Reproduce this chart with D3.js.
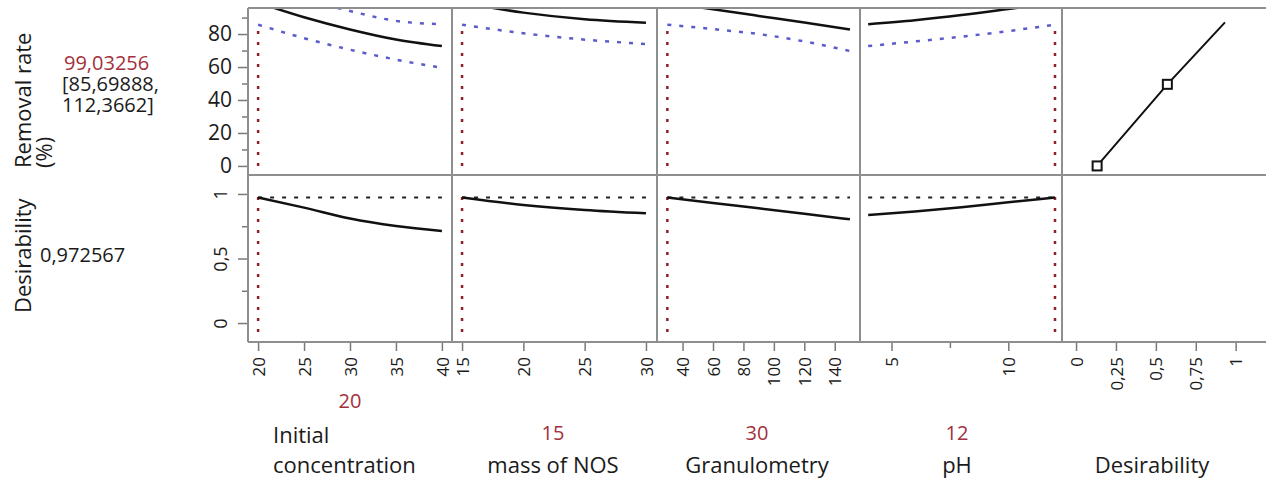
<!DOCTYPE html>
<html>
<head>
<meta charset="utf-8">
<script src="https://cdn.jsdelivr.net/npm/d3@7"></script>
<style>
  html, body { margin: 0; padding: 0; background: #fff; }
  svg { display: block; font-family: "Open Sans", "Noto Sans", sans-serif; }
</style>
</head>
<body>
<svg id="chart" width="1266" height="485"></svg>
<script>
// ---------------- DATA ----------------
const factorNames = ["Initial concentration", "mass of NOS", "Granulometry", "pH"];
const currentValues = [20, 15, 30, 12];
const currentLabels = ["20", "15", "30", "12"];

const concX    = [20, 25, 30, 35, 40];
const concRate = [99.03, 90.2, 82.8, 76.7, 72.7];
const concLow  = [85.7, 77.5, 70.5, 64.5, 59.5];
const concHigh = [112.37, 101.5, 94, 88, 86];
const concDes  = [0.9726, 0.894, 0.81, 0.752, 0.713];

const massX    = [15, 20, 25, 30];
const massRate = [99.03, 93, 89, 86.9];
const massLow  = [85.7, 80.5, 76.6, 74];
const massHigh = [112.37, 105.5, 101.4, 99.8];
const massDes  = [0.9726, 0.915, 0.876, 0.85];

const granX    = [30, 60, 90, 120, 150];
const granRate = [99.03, 95, 91, 87, 82.8];
const granLow  = [85.7, 83, 80, 75.5, 69.7];
const granHigh = [112.37, 107, 102, 98.5, 95.9];
const granDes  = [0.9726, 0.93, 0.889, 0.846, 0.804];

const phX    = [4, 6, 8, 10, 12];
const phRate = [86, 88.4, 91.5, 95.2, 99.03];
const phLow  = [72.7, 75.5, 78.4, 81.8, 85.7];
const phHigh = [99.3, 101.3, 104.6, 108.6, 112.37];
const phDes  = [0.837, 0.865, 0.898, 0.935, 0.9726];

// desirability function (removal rate vs desirability)
const desFnD    = [0.132, 0.572, 0.933];
const desFnRate = [0, 49.5, 87.1];
const desFnMarkers = [0, 1];

const predicted = "99,03256";
const ciLower = "[85,69888,";
const ciUpper = "112,3662]";
const predictedDes = 0.9726;
const predictedDesLabel = "0,972567";

// tick values
const concTicks = [20, 25, 30, 35, 40];
const massTicks = [15, 20, 25, 30];
const granTicks = [40, 60, 80, 100, 120, 140];
const phTicks = [5, 10];
const phMinor = [7.5];
const desTicks = [0, 0.25, 0.5, 0.75, 1];
const rateTicks = [0, 20, 40, 60, 80];
const rateMinor = [10, 30, 50, 70, 90];
const dTicks = [0, 0.5, 1];
const dMinor = [0.25, 0.75];

// ---------------- LAYOUT ----------------
const svg = d3.select("#chart");
const colX = [248, 452, 657, 860, 1062, 1266];
const rowTop = 8, rowMid = 175, rowBot = 342;
const RED = "#a3303c";
const FRAME = "#8e8e8e";
const locale = d3.formatLocale({decimal: ",", thousands: ".", grouping: [3], currency: ["", ""]});
const fmt = v => locale.format("~g")(v);

const yRate = d3.scaleLinear().domain([-5.5, 95.8]).range([rowMid, rowTop]);
const yDes  = d3.scaleLinear().domain([-0.147, 1.147]).range([rowBot, rowMid]);

const xDomains = [[18.9, 41.1], [14.18, 30.9], [23.2, 156.6], [3.65, 12.3], [-0.088, 1.19]];
const xScales = xDomains.map((dom, i) => d3.scaleLinear().domain(dom).range([colX[i], colX[i + 1]]));

const panels = [
  {x: concX, rate: concRate, low: concLow, high: concHigh, des: concDes},
  {x: massX, rate: massRate, low: massLow, high: massHigh, des: massDes},
  {x: granX, rate: granRate, low: granLow, high: granHigh, des: granDes},
  {x: phX,   rate: phRate,   low: phLow,   high: phHigh,   des: phDes}
];

// clip paths
const defs = svg.append("defs");
for (let i = 0; i < 5; i++) {
  defs.append("clipPath").attr("id", "ct" + i).append("rect")
    .attr("x", colX[i]).attr("y", rowTop).attr("width", colX[i + 1] - colX[i]).attr("height", rowMid - rowTop);
  defs.append("clipPath").attr("id", "cb" + i).append("rect")
    .attr("x", colX[i]).attr("y", rowMid).attr("width", colX[i + 1] - colX[i]).attr("height", rowBot - rowMid);
}

const marks = svg.append("g");

panels.forEach((p, i) => {
  const xs = xScales[i];
  const gT = marks.append("g").attr("clip-path", `url(#ct${i})`);
  const gB = marks.append("g").attr("clip-path", `url(#cb${i})`);
  const lineT = arr => d3.line().curve(d3.curveMonotoneX).x((d, k) => xs(p.x[k])).y(d => yRate(d))(arr);
  const lineB = arr => d3.line().curve(d3.curveMonotoneX).x((d, k) => xs(p.x[k])).y(d => yDes(d))(arr);
  const cur = currentValues[i];
  const ci = p.x.indexOf(cur);

  // vertical red dotted (top)
  gT.append("line")
    .attr("x1", xs(cur)).attr("x2", xs(cur))
    .attr("y1", yRate(0)).attr("y2", yRate(p.low[ci]))
    .attr("stroke", "#8f1f2a").attr("stroke-width", 2.5).attr("stroke-dasharray", "3,8");

  // confidence bands
  [p.low, p.high].forEach(arr => {
    gT.append("path").attr("d", lineT(arr)).attr("fill", "none")
      .attr("stroke", "#5b5bcc").attr("stroke-width", 2.5).attr("stroke-dasharray", "4,8");
  });
  // prediction
  gT.append("path").attr("d", lineT(p.rate)).attr("fill", "none")
    .attr("stroke", "#111").attr("stroke-width", 2.5);

  // bottom row
  gB.append("line")
    .attr("x1", xs(cur)).attr("x2", xs(cur))
    .attr("y1", yDes(-0.07)).attr("y2", yDes(predictedDes + 0.03))
    .attr("stroke", "#8f1f2a").attr("stroke-width", 2.5).attr("stroke-dasharray", "3,8");
  gB.append("line")
    .attr("x1", xs(d3.min(p.x))).attr("x2", xs(d3.max(p.x)))
    .attr("y1", yDes(predictedDes)).attr("y2", yDes(predictedDes))
    .attr("stroke", "#222").attr("stroke-width", 2).attr("stroke-dasharray", "4,8");
  gB.append("path").attr("d", lineB(p.des)).attr("fill", "none")
    .attr("stroke", "#111").attr("stroke-width", 2.5);
});

// desirability function panel
{
  const xs = xScales[4];
  const g = marks.append("g").attr("clip-path", "url(#ct4)");
  g.append("path")
    .attr("d", d3.line().x((d, k) => xs(desFnD[k])).y(d => yRate(d))(desFnRate))
    .attr("fill", "none").attr("stroke", "#111").attr("stroke-width", 2);
  g.selectAll("rect.mk").data(desFnMarkers).join("rect")
    .attr("x", k => xs(desFnD[k]) - 4.5).attr("y", k => yRate(desFnRate[k]) - 4.5)
    .attr("width", 9).attr("height", 9)
    .attr("fill", "#fff").attr("stroke", "#111").attr("stroke-width", 2);
}

// ---------------- FRAME ----------------
const frame = svg.append("g").attr("stroke", FRAME).attr("stroke-width", 2);
[rowTop, rowMid, rowBot].forEach(y => frame.append("line").attr("x1", colX[0]).attr("x2", 1266).attr("y1", y).attr("y2", y));
colX.slice(0, 5).forEach(x => frame.append("line").attr("x1", x).attr("x2", x).attr("y1", rowTop).attr("y2", rowBot));

// ---------------- AXES ----------------
const axisG = svg.append("g");
const yTop = axisG.append("g").attr("transform", `translate(${colX[0] - 1},0)`)
  .call(d3.axisLeft(yRate).tickValues(rateTicks).tickSize(9).tickPadding(6).tickFormat(fmt));
axisG.append("g").attr("transform", `translate(${colX[0] - 1},0)`)
  .call(d3.axisLeft(yRate).tickValues(rateMinor).tickSize(5).tickFormat(""));
const yBot = axisG.append("g").attr("transform", `translate(${colX[0] - 1},0)`)
  .call(d3.axisLeft(yDes).tickValues(dTicks).tickSize(9).tickPadding(6).tickFormat(fmt));
axisG.append("g").attr("transform", `translate(${colX[0] - 1},0)`)
  .call(d3.axisLeft(yDes).tickValues(dMinor).tickSize(5).tickFormat(""));
yBot.selectAll(".tick text")
  .attr("x", 0).attr("y", 0).attr("dy", 0)
  .attr("transform", "translate(-20,0) rotate(-90)")
  .attr("text-anchor", "middle");

const allTicks = [concTicks, massTicks, granTicks, phTicks, desTicks];
const allMinor = [[], [], [], phMinor, []];
const xAxes = [];
xScales.forEach((xs, i) => {
  const ax = axisG.append("g").attr("transform", `translate(0,${rowBot + 1})`)
    .call(d3.axisBottom(xs).tickValues(allTicks[i]).tickSize(8).tickPadding(6).tickFormat(fmt));
  ax.selectAll(".tick text")
    .attr("transform", "rotate(-90)")
    .attr("text-anchor", "end")
    .attr("x", -14).attr("y", 0).attr("dy", "0.36em");
  xAxes.push(ax);
  if (allMinor[i].length) {
    axisG.append("g").attr("transform", `translate(0,${rowBot + 1})`)
      .call(d3.axisBottom(xs).tickValues(allMinor[i]).tickSize(5).tickFormat(""));
  }
});

axisG.selectAll(".domain").remove();
axisG.selectAll(".tick line").attr("stroke", "#7a7a7a").attr("stroke-width", 1.5);
axisG.selectAll(".tick text").attr("fill", "#1a1a1a").attr("font-family", "'Open Sans', sans-serif");
yTop.selectAll(".tick text").attr("font-size", 21);
yBot.selectAll(".tick text").attr("font-size", 18);
xAxes.forEach(ax => ax.selectAll(".tick text").attr("font-size", 17));

// ---------------- TEXT ----------------
const txt = svg.append("g").attr("fill", "#1a1a1a").attr("font-size", 22);
const rr = txt.append("text").attr("transform", "translate(31,168) rotate(-90)");
rr.append("tspan").attr("x", 0).attr("y", 0).text("Removal rate");
rr.append("tspan").attr("x", 0).attr("y", 21).text("(%)");
txt.append("text").attr("x", 64).attr("y", 70).attr("fill", RED).attr("font-size", 20).text(predicted);
txt.append("text").attr("x", 62).attr("y", 91).attr("font-size", 20).text(ciLower);
txt.append("text").attr("x", 62).attr("y", 112).attr("font-size", 20).text(ciUpper);
txt.append("text").attr("transform", "translate(31,313) rotate(-90)").text("Desirability");
txt.append("text").attr("x", 40).attr("y", 262).attr("font-size", 20).text(predictedDesLabel);

const labelCenters = [350, 553, 757, 957, 1152];
txt.append("text").attr("x", labelCenters[0]).attr("y", 408).attr("text-anchor", "middle")
  .attr("fill", RED).attr("font-size", 20).text(currentLabels[0]);
const ic = txt.append("text");
ic.append("tspan").attr("x", 273).attr("y", 443).text(factorNames[0].split(" ")[0]);
ic.append("tspan").attr("x", 273).attr("y", 473).text(factorNames[0].split(" ")[1]);
for (let i = 1; i < 4; i++) {
  txt.append("text").attr("x", labelCenters[i]).attr("y", 440).attr("text-anchor", "middle")
    .attr("fill", RED).attr("font-size", 20).text(currentLabels[i]);
  txt.append("text").attr("x", labelCenters[i]).attr("y", 473).attr("text-anchor", "middle")
    .text(factorNames[i]);
}
txt.append("text").attr("x", labelCenters[4]).attr("y", 473).attr("text-anchor", "middle").text("Desirability");
</script>
</body>
</html>
